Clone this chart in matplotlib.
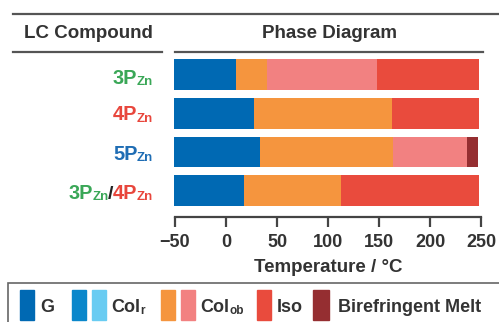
import matplotlib.pyplot as plt
from matplotlib.patches import Rectangle
from matplotlib.lines import Line2D

plt.rcParams['font.family'] = 'Liberation Sans'
plt.rcParams['font.weight'] = 'bold'

# data
compounds = [['3'], ['4'], ['5'], ['3', '4']]
compound_colors = [['#3aa757'], ['#e8463c'], ['#1f6db4'], ['#3aa757', '#e8463c']]
row_start = -51
row_phases = [
    ['G', 'Col_ob', "Col_ob'", 'Iso'],
    ['G', 'Col_ob', 'Iso'],
    ['G', 'Col_ob', "Col_ob'", 'BM'],
    ['G', 'Col_ob', 'Iso'],
]
row_ends = [
    [10, 40, 148, 248],
    [27, 163, 248],
    [33, 164, 236, 247],
    [18, 113, 248],
]
ticks = [-50, 0, 50, 100, 150, 200, 250]

colors = {'G': '#0069b3', 'Col_r': '#0a87cb', "Col_r'": '#69ccf2',
          'Col_ob': '#f5953e', "Col_ob'": '#f28181', 'Iso': '#e94b3d',
          'BM': '#952e31'}
txt = '#333333'
W, H = 499, 322

fig = plt.figure(figsize=(W / 100, H / 100), dpi=100)


def fx(x):
    return x / W


def fy(y):
    return 1 - y / H


ax = fig.add_axes([fx(175), fy(217), 306 / W, 161 / H])
for i, (phases, ends) in enumerate(zip(row_phases, row_ends)):
    left = row_start
    for ph, end in zip(phases, ends):
        ax.barh(i, end - left, left=left, height=0.8, color=colors[ph],
                clip_on=False)
        left = end
ax.set_xlim(-50, 250)
ax.set_ylim(3.69, -0.49)
ax.set_xticks(ticks)
ax.set_yticks([])
for s in ['left', 'right', 'top']:
    ax.spines[s].set_visible(False)
ax.spines['bottom'].set_color('#444444')
ax.spines['bottom'].set_linewidth(1.6)
ax.tick_params(axis='x', direction='out', length=7.5, width=1.6,
               color='#444444', pad=5, labelsize=13, labelcolor=txt)
fig.text(fx(328), fy(267), 'Temperature / °C', ha='center', va='center',
         fontsize=13.5, color=txt)

# header
fig.add_artist(Line2D([fx(13), fx(499)], [fy(13.5)] * 2, color='#555555', lw=1.6))
fig.add_artist(Line2D([fx(13), fx(162)], [fy(52)] * 2, color='#555555', lw=1.6))
fig.add_artist(Line2D([fx(175), fx(483)], [fy(52)] * 2, color='#555555', lw=1.6))
fig.text(fx(88), fy(33), 'LC Compound', ha='center', va='center', fontsize=13.5, color=txt)
fig.text(fx(329), fy(33), 'Phase Diagram', ha='center', va='center', fontsize=13.5, color=txt)

# compound labels, pieces placed right to left
fig.canvas.draw()
r = fig.canvas.get_renderer()
baselines = [83.5, 120.5, 159.5, 199]
for base, nums, cols in zip(baselines, compounds, compound_colors):
    pieces = []
    for k, (n, c) in enumerate(zip(nums, cols)):
        if k > 0:
            pieces.append(('/', '#222222', 14, 0))
        pieces.append((n + 'P', c, 14.4, 0))
        pieces.append(('Zn', c, 9.5, 1.2))
    x = 153
    for s, c, size, dy in reversed(pieces):
        t = fig.text(fx(x), fy(base + dy), s, ha='right', va='baseline',
                     fontsize=size, color=c)
        x -= t.get_window_extent(renderer=r).width - 0.6

# legend
fig.add_artist(Rectangle((fx(8), fy(340)), (520 - 8) / W, (340 - 283) / H,
                         transform=fig.transFigure, fill=False,
                         edgecolor='#666666', lw=1.2, clip_on=False))
leg = [
    (['G'], 20, [('G', 13)], 40),
    (['Col_r', "Col_r'"], 72, [('Col', 13), ('r', 8.5)], 111),
    (['Col_ob', "Col_ob'"], 161, [('Col', 13), ('ob', 8.5)], 200),
    (['Iso'], 257, [('Iso', 13)], 277),
    (['BM'], 313, [('Birefringent Melt', 13)], 338),
]
for phs, x0, parts, tx in leg:
    for k, ph in enumerate(phs):
        wdt = 16 if ph == 'BM' else 13.5
        fig.add_artist(Rectangle((fx(x0 + k * 20), fy(320)), wdt / W, 30.5 / H,
                                 transform=fig.transFigure, color=colors[ph]))
    x = tx
    for k, (s, size) in enumerate(parts):
        t = fig.text(fx(x), fy(312.5 + (1.2 if k else 0)), s, ha='left',
                     va='baseline', fontsize=size, color=txt)
        x += t.get_window_extent(renderer=r).width + 0.5

fig.savefig('out.png', dpi=100)
